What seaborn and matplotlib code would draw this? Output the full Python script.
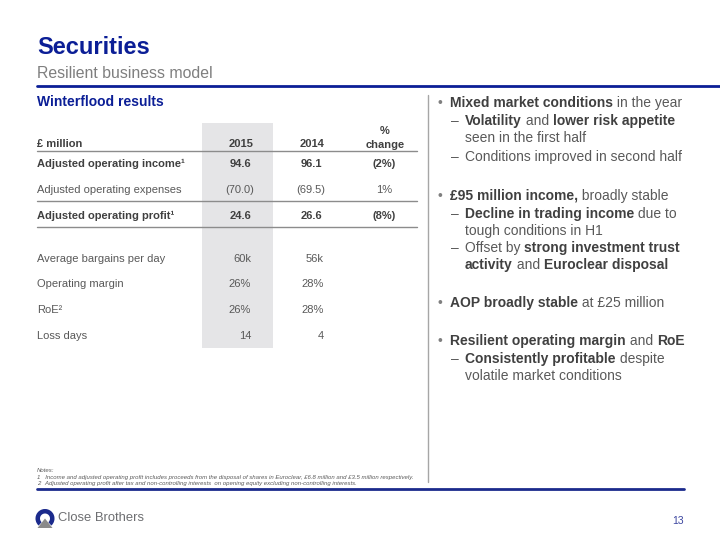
import matplotlib
matplotlib.use("Agg")
import matplotlib.pyplot as plt
import seaborn as sns
from matplotlib.patches import Wedge, Polygon

sns.set_theme(style="white")
plt.rcParams['font.family'] = ['Liberation Sans', 'DejaVu Sans']

# table data
col_years = ["2015", "2014"]
row_labels = ["Adjusted operating income¹", "Adjusted operating expenses",
              "Adjusted operating profit¹", "Average bargains per day",
              "Operating margin", "RoE²", "Loss days"]
vals_2015 = ["94.6", "(70.0)", "24.6", "60k", "26%", "26%", "14"]
vals_2014 = ["96.1", "(69.5)", "26.6", "56k", "28%", "28%", "4"]
pct_change = ["(2%)", "1%", "(8%)", "", "", "", ""]
bold_rows = [True, False, True, False, False, False, False]

# right hand bullets: (level, [(text, bold), ...])
bullets = [
    (0, [("Mixed market conditions", True), (" in the year", False)]),
    (1, [("Volatility", True), (" and ", False), ("lower risk appetite", True)]),
    (2, [("seen in the first half", False)]),
    (1, [("Conditions improved in second half", False)]),
    (0, [("£95 million income,", True), (" broadly stable", False)]),
    (1, [("Decline in trading income", True), (" due to", False)]),
    (2, [("tough conditions in H1", False)]),
    (1, [("Offset by ", False), ("strong investment trust", True)]),
    (2, [("activity", True), (" and ", False), ("Euroclear disposal", True)]),
    (0, [("AOP broadly stable", True), (" at £25 million", False)]),
    (0, [("Resilient operating margin", True), (" and ", False), ("RoE", True)]),
    (1, [("Consistently profitable", True), (" despite", False)]),
    (2, [("volatile market conditions", False)]),
]
bullet_y = [103, 121, 138, 157, 196, 214, 231, 248, 265, 303, 341, 359, 376]

notes = ["Notes:",
         "1   Income and adjusted operating profit includes proceeds from the disposal of shares in Euroclear, £6.8 million and £3.5 million respectively.",
         "2   Adjusted operating profit after tax and non-controlling interests  on opening equity excluding non-controlling interests."]

BLUE = "#0B1E96"
DARK = "#404040"
MID = "#595959"

fig = plt.figure(figsize=(7.2, 5.4), dpi=100)
ax = fig.add_axes([0, 0, 1, 1])
ax.set_xlim(0, 720)
ax.set_ylim(540, 0)
ax.axis("off")
r = fig.canvas.get_renderer()

# header
ax.text(37, 48, "Securities", fontsize=17, fontweight="bold", color=BLUE, va="center")
ax.text(37, 73, "Resilient business model", fontsize=11.4, color="#7F7F7F", va="center")
ax.plot([37, 720], [86, 86], color=BLUE, lw=2)
ax.text(37, 102, "Winterflood results", fontsize=10, fontweight="bold", color=BLUE, va="center")

# table
ax.axvspan(202, 273, ymin=1 - 348 / 540, ymax=1 - 123 / 540, color="#E5E5E7", lw=0)
ax.text(37, 144, "£ million", fontsize=8, fontweight="bold", color=DARK, va="center")
for x, yr in zip([241, 312], col_years):
    ax.text(x, 144, yr, fontsize=8, fontweight="bold", color=DARK, va="center", ha="center")
ax.text(385, 131, "%", fontsize=8, fontweight="bold", color=DARK, va="center", ha="center")
ax.text(385, 145, "change", fontsize=8, fontweight="bold", color=DARK, va="center", ha="center")
for yl in [151, 201, 227]:
    ax.plot([37, 417], [yl, yl], color="#8C8C8C", lw=1)

row_y = [164, 190, 216, 259, 284, 310, 336]
for i, lab in enumerate(row_labels):
    w = "bold" if bold_rows[i] else "normal"
    c = DARK if bold_rows[i] else MID
    y = row_y[i]
    ax.text(37, y, lab, fontsize=8, fontweight=w, color=c, va="center")
    if pct_change[i] or i < 3:
        ax.text(240, y, vals_2015[i], fontsize=8, fontweight=w, color=c, va="center", ha="center")
        ax.text(311, y, vals_2014[i], fontsize=8, fontweight=w, color=c, va="center", ha="center")
        ax.text(384, y, pct_change[i], fontsize=8, fontweight=w, color=c, va="center", ha="center")
    else:
        ax.text(251, y, vals_2015[i], fontsize=8, fontweight=w, color=c, va="center", ha="right")
        ax.text(324, y, vals_2014[i], fontsize=8, fontweight=w, color=c, va="center", ha="right")

# separator
ax.plot([428, 428], [95, 482], color="#A6A6A6", lw=1)

# bullets
indent = {0: 450, 1: 465, 2: 465}
for (lvl, parts), y in zip(bullets, bullet_y):
    if lvl == 0:
        ax.text(438, y, "•", fontsize=10, color="#7F7F7F", va="center")
    elif lvl == 1:
        ax.text(451, y, "–", fontsize=10, color=MID, va="center")
    x = indent[lvl]
    for txt, b in parts:
        t = ax.text(x, y, txt, fontsize=10, fontweight="bold" if b else "normal",
                    color=DARK if b else MID, va="center")
        x += t.get_window_extent(renderer=r).width

# notes
for txt, y in zip(notes, [471, 477, 483]):
    ax.text(37, y, txt, fontsize=4.3, style="italic", color=MID, va="center")
ax.plot([37, 684], [489, 489], color="#1B2A8C", lw=2)

# logo
ax.add_patch(Wedge((45, 518.5), 9.5, 132, 408, width=4.5, color="#1B2A8C", lw=0))
ax.add_patch(Polygon([(37.5, 528), (52.5, 528), (45, 518.5)], closed=True, color="#8A8A8A", lw=0))
ax.text(58, 518, "Close Brothers", fontsize=9.4, color="#6D6E71", va="center")
ax.text(684, 521, "13", fontsize=7.5, color="#3C46A0", va="center", ha="right")

fig.savefig("out.png", dpi=100)
